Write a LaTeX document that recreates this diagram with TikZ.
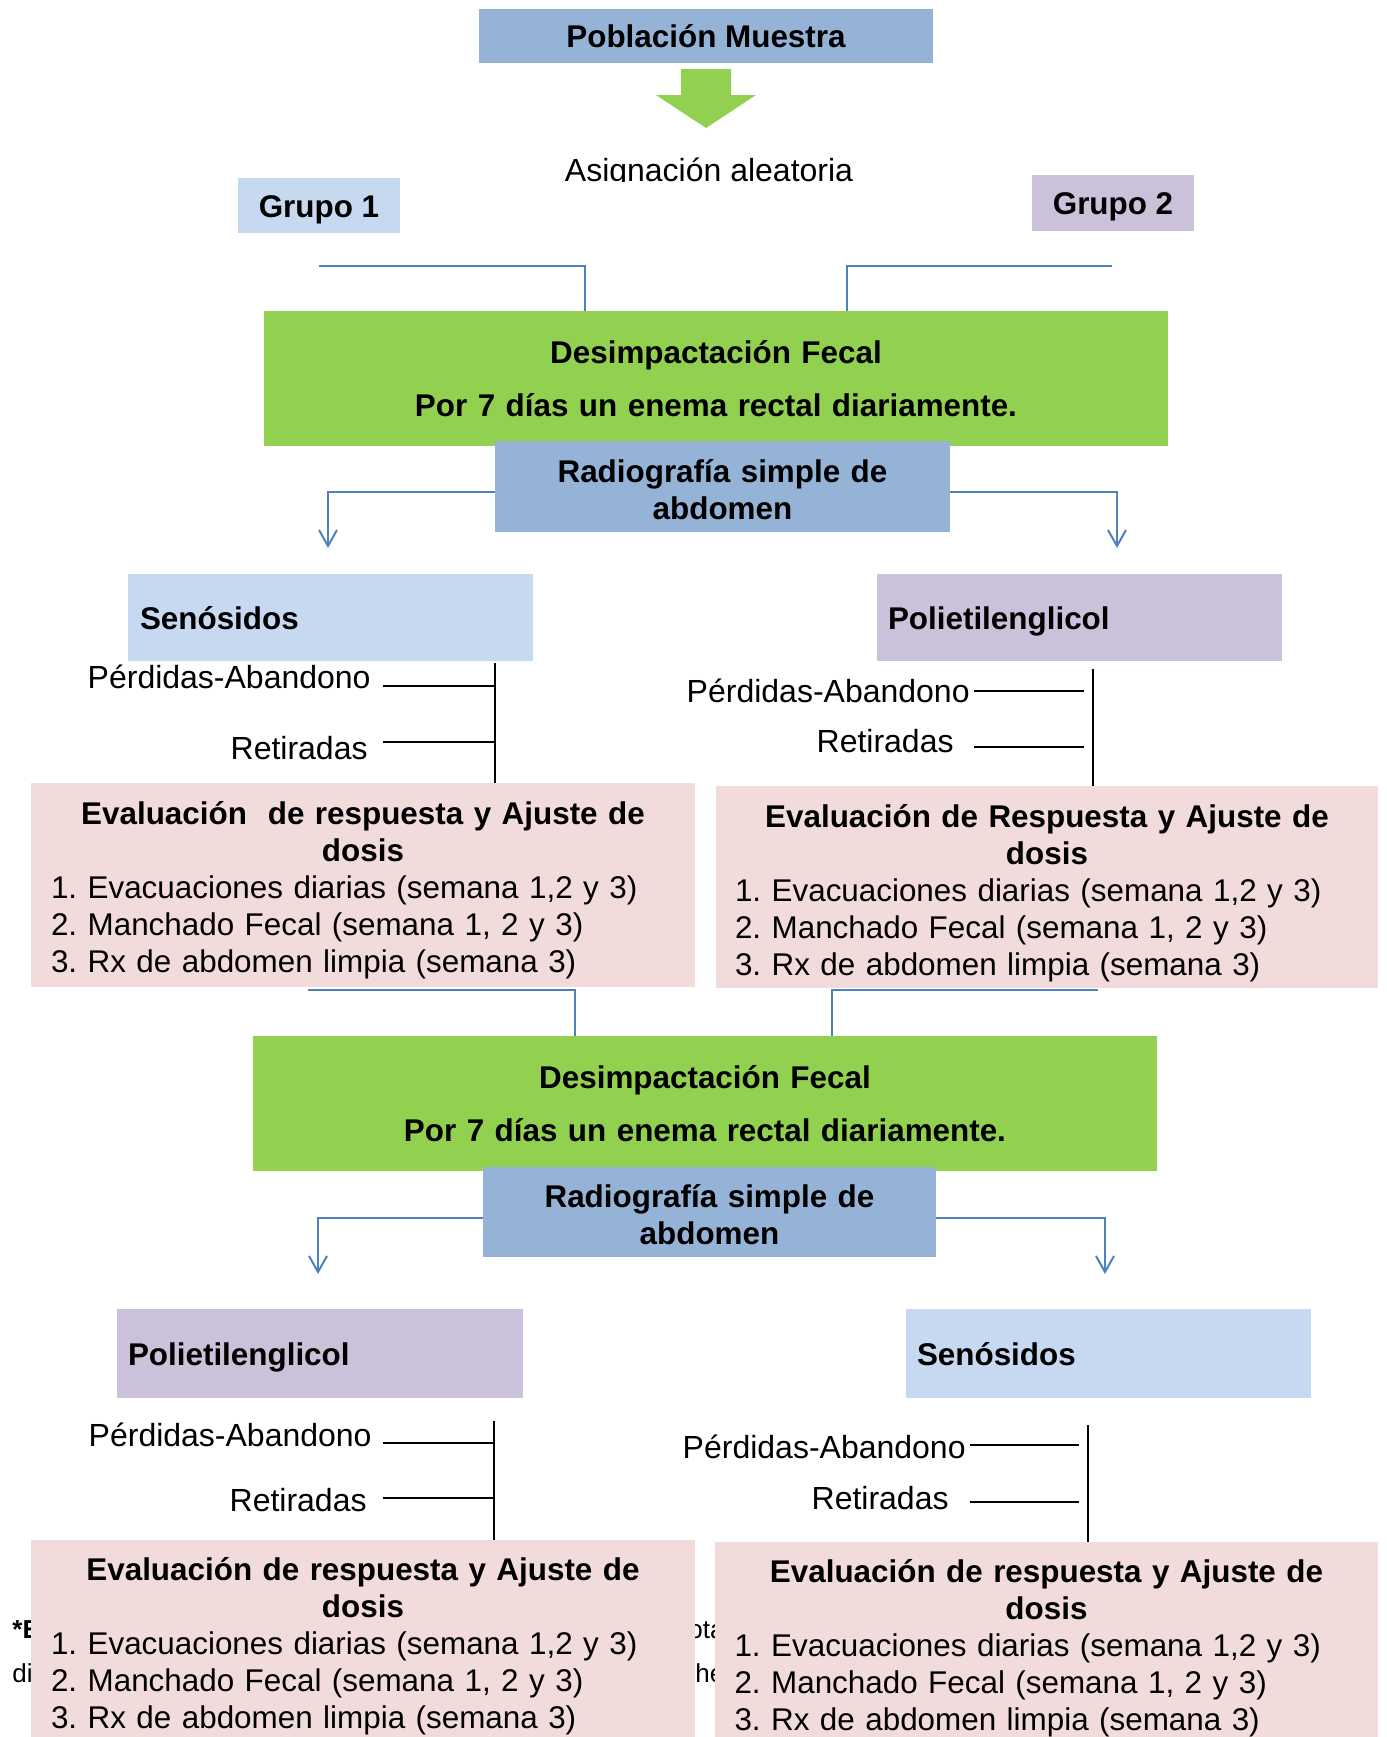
\documentclass[tikz,border=0pt]{standalone}
\usepackage{fontspec}
\setmainfont{Liberation Sans}
\usetikzlibrary{arrows.meta}
\definecolor{cBlue}{HTML}{95B3D7}
\definecolor{cLight}{HTML}{C6D9F1}
\definecolor{cLav}{HTML}{CCC1DA}
\definecolor{cGreen}{HTML}{92D050}
\definecolor{cPink}{HTML}{F2DCDB}
\definecolor{cLine}{HTML}{4F81BD}
\newcommand{\myNorm}{\frenchspacing\fontsize{16pt}{18.5pt}\selectfont}
\newcommand{\myItem}{\frenchspacing\fontsize{15.7pt}{18.5pt}\selectfont}
\newcommand{\myBold}{\frenchspacing\fontsize{15.7pt}{18.5pt}\selectfont\bfseries}
\newcommand{\fstrut}{\rule{0pt}{16pt}}
\begin{document}
\frenchspacing
\begin{tikzpicture}[x=0.5pt,y=-0.5pt,
  every node/.style={font=\myNorm},
  one/.style={text height=11.5pt, text depth=0pt, inner sep=0pt},
  cbox/.style={one, font=\myBold},
  lbox/.style={one, align=left, font=\myBold},
  plain/.style={fill=#1, inner sep=0pt},
  mtext/.style={anchor=north, inner sep=0pt, align=center, font=\myBold},
  evtext/.style={anchor=north, inner sep=0pt, text width=312pt, align=left, font=\myItem},
  side/.style={one, anchor=east, font=\myNorm},
  frag/.style={inner sep=0pt, anchor=base west, font=\fontsize{13pt}{15pt}\selectfont},
  conn/.style={draw=cLine, line width=1pt},
  conntip/.style={conn, -{Straight Barb[length=8pt,width=9pt]}},
  blk/.style={draw=black, line width=1.2pt}
]
\fill[white] (0,0) rectangle (1387,1737);
\useasboundingbox (0,0) rectangle (1387,1737);

% ---- top ----
\node[cbox, fill=cBlue, minimum width=227pt, minimum height=27pt] (pob) at (706,36) {Población Muestra};
\fill[cGreen] (681,69) -- (731,69) -- (731,95) -- (756,95) -- (706,128) -- (656,95) -- (681,95) -- cycle;
\begin{scope}
  \clip (540,150) rectangle (880,181.5);
  \node[one] (asig) at (709,170) {Asignación aleatoria};
\end{scope}
\node[cbox, fill=cLight, minimum width=81pt, minimum height=27.5pt] (g1) at (319,205.5) {Grupo 1};
\node[cbox, fill=cLav, minimum width=81pt, minimum height=28pt] (g2) at (1113,203) {Grupo 2};

% ---- first treatment ----
\node[plain=cGreen, minimum width=452pt, minimum height=67.5pt] (gr1) at (716,378.5) {};
\node[mtext, text width=440pt] (gr1t) at (716,331.5) {\fstrut Desimpactación Fecal\\[8pt]Por 7 días un enema rectal diariamente.};
\coordinate (c1) at (319,266);
\coordinate (c2) at (1112,266);
\draw[conn] (c1) -| ([xshift=-65.5pt]gr1.north);
\draw[conn] (c2) -| ([xshift=65.5pt]gr1.north);

\node[plain=cBlue, minimum width=227.5pt, minimum height=45.5pt] (rad1) at (722.5,486.5) {};
\node[mtext, text width=220pt] (rad1t) at (722.5,450.5) {\fstrut Radiografía simple de\\ abdomen};
\coordinate (a1) at (328,548);
\coordinate (a2) at (1117,548);
\draw[conntip] ([yshift=-2.75pt]rad1.west) -| (a1);
\draw[conntip] ([yshift=-2.75pt]rad1.east) -| (a2);

\node[lbox, fill=cLight, text width=190.5pt, inner xsep=6pt, minimum height=43.5pt] (sen1) at (330.5,617.5) {Senósidos};
\node[lbox, fill=cLav, text width=191.5pt, inner xsep=5.5pt, minimum height=43.5pt] (pol1) at (1079.5,617.5) {Polietilenglicol};

\node[side] (pa1) at (371,677) {Pérdidas-Abandono};
\node[side] (re1) at (368,747.5) {Retiradas};
\node[side] (pa2) at (970,690.5) {Pérdidas-Abandono};
\node[side] (re2) at (954,740.5) {Retiradas};

\node[plain=cPink, minimum width=332pt, minimum height=102pt] (ev1) at (363,885) {};
\node[evtext] (ev1t) at (363,792.5) {{\centering\myBold\fstrut Evaluación\ \ de respuesta y Ajuste de\\ dosis\par}1. Evacuaciones diarias (semana 1,2 y 3)\\ 2. Manchado Fecal (semana 1, 2 y 3)\\ 3. Rx de abdomen limpia (semana 3)};
\node[plain=cPink, minimum width=331pt, minimum height=101pt] (ev2) at (1047,887) {};
\node[evtext] (ev2t) at (1047,795.5) {{\centering\myBold\fstrut Evaluación de Respuesta y Ajuste de\\ dosis\par}1. Evacuaciones diarias (semana 1,2 y 3)\\ 2. Manchado Fecal (semana 1, 2 y 3)\\ 3. Rx de abdomen limpia (semana 3)};

\coordinate (v1) at (495,663);
\draw[blk] (v1) -- (v1 |- ev1.north);
\coordinate (h1) at (383,686);
\coordinate (h2) at (383,742);
\draw[blk] (h1) -- (h1 -| v1);
\draw[blk] (h2) -- (h2 -| v1);
\coordinate (v2) at (1093,669);
\draw[blk] (v2) -- (v2 |- ev2.north);
\coordinate (h3) at (974,691);
\coordinate (h3e) at (1084,691);
\coordinate (h4) at (974,747);
\coordinate (h4e) at (1084,747);
\draw[blk] (h3) -- (h3e);
\draw[blk] (h4) -- (h4e);

% ---- second treatment ----
\node[plain=cGreen, minimum width=452pt, minimum height=67.5pt] (gr2) at (705,1103.5) {};
\node[mtext, text width=440pt] (gr2t) at (705,1056.5) {\fstrut Desimpactación Fecal\\[8pt]Por 7 días un enema rectal diariamente.};
\coordinate (m1) at (308,990);
\coordinate (m2) at (1098,990);
\draw[conn] (m1) -| ([xshift=-65pt]gr2.north);
\draw[conn] (m2) -| ([xshift=63.5pt]gr2.north);

\node[plain=cBlue, minimum width=226.5pt, minimum height=45pt] (rad2) at (709.5,1212) {};
\node[mtext, text width=220pt] (rad2t) at (709.5,1175.5) {\fstrut Radiografía simple de\\ abdomen};
\coordinate (a3) at (318,1274);
\coordinate (a4) at (1105,1274);
\draw[conntip] ([yshift=-2.75pt]rad2.west) -| (a3);
\draw[conntip] ([yshift=-2.75pt]rad2.east) -| (a4);

\node[lbox, fill=cLav, text width=192pt, inner xsep=5.5pt, minimum height=44.5pt] (pol2) at (320,1353.5) {Polietilenglicol};
\node[lbox, fill=cLight, text width=191.5pt, inner xsep=5.5pt, minimum height=44.5pt] (sen2) at (1108.5,1353.5) {Senósidos};

\node[side] (pa3) at (372,1434.5) {Pérdidas-Abandono};
\node[side] (re3) at (367,1499.5) {Retiradas};
\node[side] (pa4) at (966,1447) {Pérdidas-Abandono};
\node[side] (re4) at (949,1497.5) {Retiradas};

% fragments of text hidden behind the last boxes
\node[frag] (f1) at (12,1638) {\bfseries *E};
\node[frag] (f2) at (12,1682) {di};
\node[frag] (f3) at (688,1638) {ota};
\node[frag] (f4) at (695,1682) {he};

\node[plain=cPink, minimum width=332pt, minimum height=98.5pt] (ev3) at (363,1638.5) {};
\node[evtext] (ev3t) at (363,1548) {{\centering\myBold\fstrut Evaluación de respuesta y Ajuste de\\ dosis\par}1. Evacuaciones diarias (semana 1,2 y 3)\\ 2. Manchado Fecal (semana 1, 2 y 3)\\ 3. Rx de abdomen limpia (semana 3)};
\node[plain=cPink, minimum width=331.5pt, minimum height=97.5pt] (ev4) at (1046.5,1639.5) {};
\node[evtext] (ev4t) at (1046.5,1550) {{\centering\myBold\fstrut Evaluación de respuesta y Ajuste de\\ dosis\par}1. Evacuaciones diarias (semana 1,2 y 3)\\ 2. Manchado Fecal (semana 1, 2 y 3)\\ 3. Rx de abdomen limpia (semana 3)};

\coordinate (v3) at (494,1421);
\draw[blk] (v3) -- (v3 |- ev3.north);
\coordinate (h5) at (383,1443);
\coordinate (h6) at (383,1498);
\draw[blk] (h5) -- (h5 -| v3);
\draw[blk] (h6) -- (h6 -| v3);
\coordinate (v4) at (1088,1425);
\draw[blk] (v4) -- (v4 |- ev4.north);
\coordinate (h7) at (970,1445);
\coordinate (h7e) at (1079,1445);
\coordinate (h8) at (970,1502);
\coordinate (h8e) at (1079,1502);
\draw[blk] (h7) -- (h7e);
\draw[blk] (h8) -- (h8e);
\end{tikzpicture}
\end{document}
